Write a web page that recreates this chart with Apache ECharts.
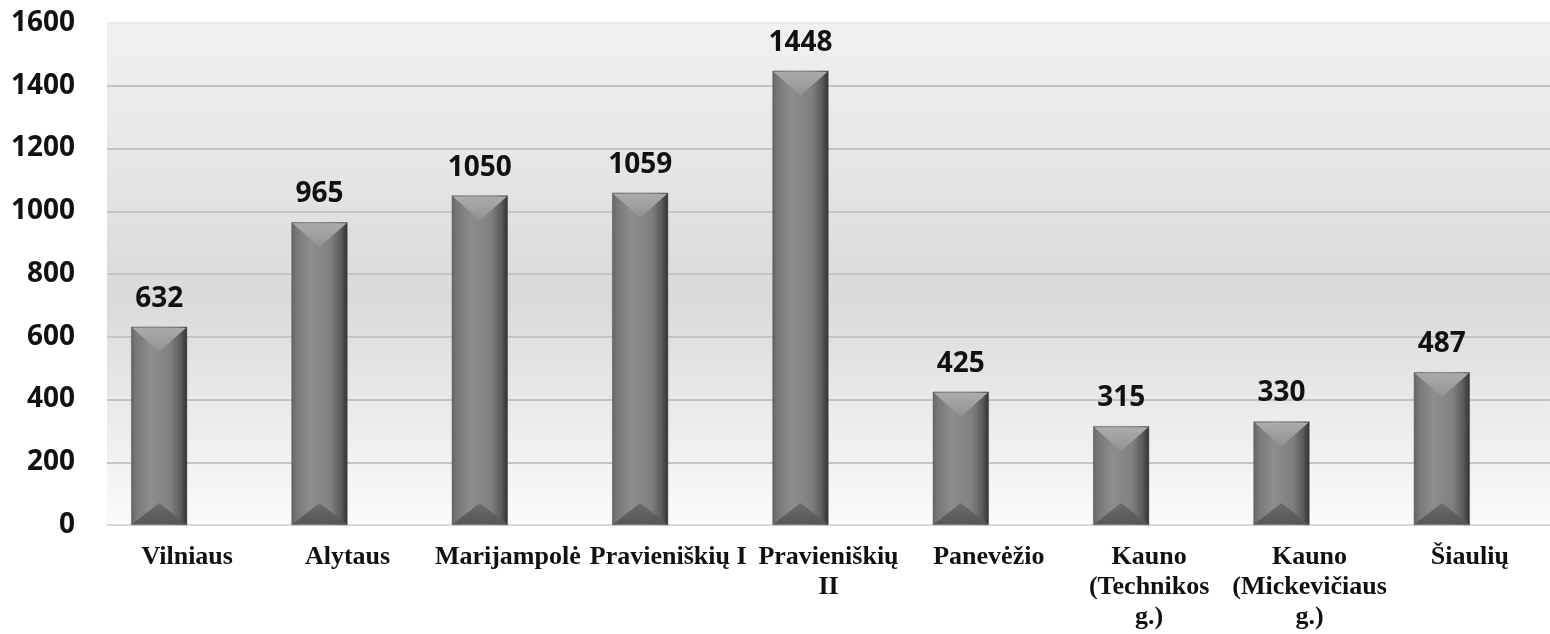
<!DOCTYPE html>
<html>
<head>
<meta charset="utf-8">
<script src="https://cdn.jsdelivr.net/npm/echarts@6/dist/echarts.min.js"></script>
<style>
  html, body { margin: 0; padding: 0; background: #fff; }
  #chart { width: 1550px; height: 634px; }
</style>
</head>
<body>
<div id="chart"></div>
<script>
// pataisos namai (categories) and values
const categories = [
  'Vilniaus',
  'Alytaus',
  'Marijampolė',
  'Pravieniškių I',
  'Pravieniškių\nII',
  'Panevėžio',
  'Kauno\n(Technikos\ng.)',
  'Kauno\n(Mickevičiaus\ng.)',
  'Šiaulių'
];
const values = [632, 965, 1050, 1059, 1448, 425, 315, 330, 487];
const yTicks = [0, 200, 400, 600, 800, 1000, 1200, 1400, 1600];

const chart = echarts.init(document.getElementById('chart'));

const BAR_W = 56;
const BEVEL = 25;

// horizontal shading of the bar body
const bodyFill = new echarts.graphic.LinearGradient(0, 0, 1, 0, [
  { offset: 0, color: '#626262' },
  { offset: 0.08, color: '#777777' },
  { offset: 0.35, color: '#8d8d8d' },
  { offset: 0.7, color: '#808080' },
  { offset: 0.88, color: '#5c5c5c' },
  { offset: 1, color: '#303030' }
]);

// bevel triangles on top and bottom of each bar
function renderBevel(params, api) {
  const idx = api.value(0);
  const top = api.coord([idx, api.value(1)]);
  const base = api.coord([idx, 0]);
  const x0 = top[0] - BAR_W;   // bar sits in the left half of its pair
  const x1 = top[0];
  const cx = (x0 + x1) / 2;
  const d = Math.min(BEVEL, (base[1] - top[1]) / 2);
  return {
    type: 'group',
    children: [
      {
        type: 'polygon',
        shape: { points: [[x0 + 1, top[1] + 1], [x1 - 1, top[1] + 1], [cx, top[1] + d]] },
        style: {
          fill: new echarts.graphic.LinearGradient(0, 0, 0, 1, [
            { offset: 0, color: '#ababab' },
            { offset: 1, color: '#929292' }
          ])
        }
      },
      {
        type: 'polygon',
        shape: { points: [[x0 + 1, base[1] - 1], [x1 - 1, base[1] - 1], [cx, base[1] - d + 3]] },
        style: {
          fill: new echarts.graphic.LinearGradient(0, 0, 0, 1, [
            { offset: 0, color: '#6c6c6c' },
            { offset: 1, color: '#565656' }
          ])
        }
      }
    ]
  };
}

const option = {
  animation: false,
  backgroundColor: '#ffffff',
  grid: {
    left: 107,
    top: 23,
    width: 1454,
    height: 502,
    show: true,
    borderWidth: 0,
    backgroundColor: new echarts.graphic.LinearGradient(0, 0, 0, 1, [
      { offset: 0, color: '#f1f1f1' },
      { offset: 0.55, color: '#dadada' },
      { offset: 1, color: '#fbfbfb' }
    ])
  },
  xAxis: {
    type: 'category',
    data: categories,
    axisTick: { show: false },
    axisLine: { lineStyle: { color: '#d9d9d9', width: 1 } },
    axisLabel: {
      interval: 0,
      margin: 17,
      fontFamily: '"Liberation Serif", "Times New Roman", serif',
      fontWeight: 'bold',
      fontSize: 26,
      lineHeight: 30,
      color: '#111'
    }
  },
  yAxis: {
    type: 'value',
    min: yTicks[0],
    max: yTicks[yTicks.length - 1],
    interval: 200,
    axisLine: { show: false },
    axisTick: { show: false },
    axisLabel: {
      margin: 32,
      formatter: v => String(v),
      fontFamily: '"Open Sans", sans-serif',
      fontWeight: 'bold',
      fontSize: 28,
      color: '#111'
    },
    splitLine: {
      lineStyle: {
        width: 2,
        color: ['#d9d9d9', '#c4c4c4', '#c4c4c4', '#c4c4c4', '#c4c4c4',
                '#c4c4c4', '#c4c4c4', '#c4c4c4', '#ebebeb']
      }
    }
  },
  series: [
    {
      name: 'Nuteistieji',
      type: 'bar',
      data: values,
      barWidth: BAR_W,
      barGap: '0%',
      itemStyle: { color: bodyFill, borderColor: '#555', borderWidth: 0.5 },
      label: {
        show: true,
        position: 'top',
        distance: 14,
        fontFamily: '"Open Sans", sans-serif',
        fontWeight: 'bold',
        fontSize: 28,
        color: '#111'
      },
      z: 2
    },
    {
      name: 'empty',
      type: 'bar',
      data: [],
      barWidth: BAR_W
    },
    {
      type: 'custom',
      renderItem: renderBevel,
      data: values.map((v, i) => [i, v]),
      silent: true,
      z: 3
    }
  ]
};

chart.setOption(option);
</script>
</body>
</html>
